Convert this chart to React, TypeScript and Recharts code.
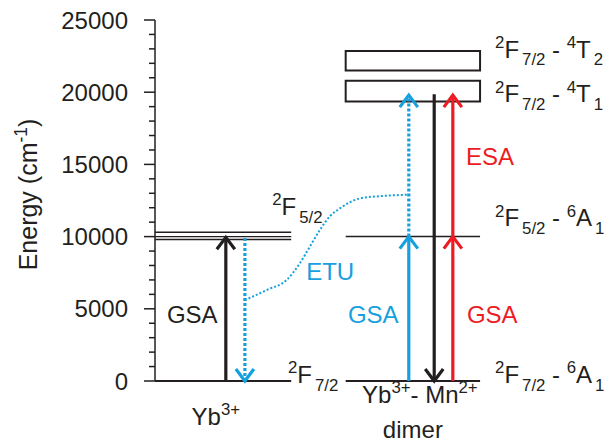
import React from "react";
import {
  ComposedChart,
  Line,
  XAxis,
  YAxis,
  ReferenceLine,
  ReferenceArea,
  ReferenceDot,
} from "recharts";

const FONT = "'Liberation Sans', Arial, Helvetica, sans-serif";
const INK = "#231f20";
const BLUE = "#16a0de";
const RED = "#ed1c24";

// energy axis (cm-1)
const majorTicks = [0, 5000, 10000, 15000, 20000, 25000];
const allTicks = [
  0, 1000, 2000, 3000, 4000, 5000, 6000, 7000, 8000, 9000, 10000, 11000, 12000,
  13000, 14000, 15000, 16000, 17000, 18000, 19000, 20000, 21000, 22000, 23000,
  24000, 25000,
];

// energy levels
const ybLevels = [0, 9800, 10000, 10300];
const dimerLevels = [0, 10000];
const dimerBands = [
  [19350, 20800], // 2F7/2 - 4T1
  [21500, 22850], // 2F7/2 - 4T2
];

// transitions (from, to)
const ybGsa = [0, 9950];
const ybEtuDown = [9900, 0];
const dimerGsa = [0, 10000];
const dimerEtuUp = [10000, 19800];
const dimerEmission = [19850, 0];
const dimerEsa = [10000, 19800];

// ETU energy transfer path
const etuEnergy = [5600, 6300, 7000, 8150, 9300, 10450, 11400, 11950, 12650, 12800, 12900];
const etuX = [19.8, 24.6, 29, 31.9, 34.1, 36.3, 38.5, 40.7, 45.2, 49.6, 55.9];

// horizontal layout (0-100 units)
const YB = { from: 0, to: 30, gsa: 15.6, etu: 19.8 };
const DIMER = { from: 42, to: 71.6, blue: 55.9, black: 61.5, red: 65.6 };

type Part = [string, "" | "sup" | "sub"];

const Term = ({
  x,
  y,
  parts,
  size = 24,
  color = INK,
  anchor = "start",
}: {
  x: number;
  y: number;
  parts: Part[];
  size?: number;
  color?: string;
  anchor?: "start" | "middle" | "end";
}) => {
  let cur = 0;
  return (
    <text
      x={x}
      y={y}
      fontSize={size}
      fill={color}
      fontFamily={FONT}
      textAnchor={anchor}
      style={{ whiteSpace: "pre" }}
    >
      {parts.map(([t, k], i) => {
        const target = k === "sup" ? -size * 0.4 : k === "sub" ? size * 0.32 : 0;
        const dy = target - cur;
        cur = target;
        return (
          <tspan key={i} dy={dy} dx={k === "sub" ? 3 : 0} fontSize={k ? size * 0.7 : size}>
            {t}
          </tspan>
        );
      })}
    </text>
  );
};

const labels: { x: number; y: number; parts: Part[]; color?: string; anchor?: "start" | "middle" }[] = [
  { x: 8.2, y: 4000, parts: [["GSA", ""]], anchor: "middle" },
  { x: 33.3, y: 7000, parts: [["ETU", ""]], color: BLUE },
  { x: 25.8, y: 11500, parts: [["2", "sup"], ["F", ""], ["5/2", "sub"]] },
  { x: 29.3, y: -140, parts: [["2", "sup"], ["F", ""], ["7/2", "sub"]] },
  { x: 13.4, y: -3050, parts: [["Yb", ""], ["3+", "sup"]], anchor: "middle" },
  { x: 45.6, y: -1520, parts: [["Yb", ""], ["3+", "sup"], ["- Mn", ""], ["2+", "sup"]] },
  { x: 56.8, y: -3950, parts: [["dimer", ""]], anchor: "middle" },
  { x: 42.5, y: 4000, parts: [["GSA", ""]], color: BLUE },
  { x: 68.7, y: 4000, parts: [["GSA", ""]], color: RED },
  { x: 68.5, y: 14950, parts: [["ESA", ""]], color: RED },
  { x: 74.9, y: 22400, parts: [["2", "sup"], ["F", ""], ["7/2", "sub"], [" - ", ""], ["4", "sup"], ["T", ""], ["2", "sub"]] },
  { x: 74.9, y: 19300, parts: [["2", "sup"], ["F", ""], ["7/2", "sub"], [" - ", ""], ["4", "sup"], ["T", ""], ["1", "sub"]] },
  { x: 74.9, y: 10700, parts: [["2", "sup"], ["F", ""], ["5/2", "sub"], [" - ", ""], ["6", "sup"], ["A", ""], ["1", "sub"]] },
  { x: 74.9, y: -140, parts: [["2", "sup"], ["F", ""], ["7/2", "sub"], [" - ", ""], ["6", "sup"], ["A", ""], ["1", "sub"]] },
];

const EnergyTick = (props: any) => {
  const { x, y, payload } = props;
  const major = majorTicks.includes(payload.value);
  return (
    <g>
      <line x1={x - (major ? 11 : 6)} x2={x} y1={y} y2={y} stroke={INK} strokeWidth={1.5} />
      {major && (
        <text x={x - 27} y={y} dy="0.36em" textAnchor="end" fontSize={24} fontFamily={FONT} fill={INK}>
          {payload.value}
        </text>
      )}
    </g>
  );
};

const AxisTitle = (props: any) => {
  const vb = props.viewBox || { x: 0, y: 20, width: 155, height: 361 };
  const cx = vb.x + 28;
  const cy = vb.y + vb.height / 2 - 6;
  return (
    <g transform={`translate(${cx},${cy}) rotate(-90)`}>
      <Term x={0} y={9} anchor="middle" size={25} parts={[["Energy (cm", ""], ["-1", "sup"], [")", ""]]} />
    </g>
  );
};

const arrowDot = (up: boolean, color: string) => (p: any) => {
  if (p.index !== 1) return <g key={`d${p.index}`} />;
  const s = up ? 1 : -1;
  return (
    <polyline
      key="head"
      points={`${p.cx - 9},${p.cy + s * 12} ${p.cx},${p.cy} ${p.cx + 9},${p.cy + s * 12}`}
      fill="none"
      stroke={color}
      strokeWidth={3.2}
      strokeDasharray="none"
    />
  );
};

const arrow = (key: string, x: number, [from, to]: number[], color: string, dashed: boolean) => (
  <Line
    key={key}
    data={[
      { x, e: from },
      { x, e: to },
    ]}
    dataKey="e"
    type="linear"
    stroke={color}
    strokeWidth={3.2}
    strokeDasharray={dashed ? "3 2" : undefined}
    dot={arrowDot(to > from, color)}
    activeDot={false}
    isAnimationActive={false}
  />
);

export default function App() {
  return (
    <div style={{ position: "absolute", left: 0, top: 0, background: "#fff" }}>
      <ComposedChart width={609} height={445} margin={{ top: 20, right: 0, bottom: 64, left: 0 }}>
        <XAxis type="number" dataKey="x" domain={[0, 100]} hide />
        <YAxis
          type="number"
          domain={[0, 25000]}
          ticks={allTicks}
          interval={0}
          width={155}
          tickSize={0}
          tickMargin={0}
          tickLine={false}
          axisLine={{ stroke: INK, strokeWidth: 1.5 }}
          tick={EnergyTick}
          label={{ content: AxisTitle }}
        />

        {ybLevels.map((e) => (
          <ReferenceLine
            key={`yb${e}`}
            segment={[
              { x: YB.from, y: e },
              { x: YB.to, y: e },
            ]}
            stroke={INK}
            strokeWidth={e === 0 ? 2 : 1.3}
            ifOverflow="visible"
          />
        ))}
        {dimerLevels.map((e) => (
          <ReferenceLine
            key={`dm${e}`}
            segment={[
              { x: DIMER.from, y: e },
              { x: DIMER.to, y: e },
            ]}
            stroke={INK}
            strokeWidth={e === 0 ? 2 : 1.5}
            ifOverflow="visible"
          />
        ))}
        {dimerBands.map(([lo, hi]) => (
          <ReferenceArea
            key={`band${lo}`}
            x1={DIMER.from}
            x2={DIMER.to}
            y1={lo}
            y2={hi}
            fill="none"
            fillOpacity={0}
            stroke={INK}
            strokeWidth={2}
            ifOverflow="visible"
          />
        ))}

        <Line
          data={etuX.map((x, i) => ({ x, e: etuEnergy[i] }))}
          dataKey="e"
          type="monotone"
          stroke={BLUE}
          strokeWidth={2}
          strokeDasharray="2 2"
          dot={false}
          activeDot={false}
          isAnimationActive={false}
        />

        {arrow("ybGsa", YB.gsa, ybGsa, INK, false)}
        {arrow("ybEtu", YB.etu, ybEtuDown, BLUE, true)}
        {arrow("dmGsa", DIMER.blue, dimerGsa, BLUE, false)}
        {arrow("dmEtu", DIMER.blue, dimerEtuUp, BLUE, true)}
        {arrow("dmEm", DIMER.black, dimerEmission, INK, false)}
        {arrow("dmGsa2", DIMER.red, dimerGsa, RED, false)}
        {arrow("dmEsa", DIMER.red, dimerEsa, RED, false)}

        {labels.map((l, i) => (
          <ReferenceDot
            key={`lbl${i}`}
            x={l.x}
            y={l.y}
            r={0}
            ifOverflow="visible"
            shape={(p: any) => (
              <Term x={p.cx} y={p.cy} parts={l.parts} color={l.color} anchor={l.anchor} />
            )}
          />
        ))}
      </ComposedChart>
    </div>
  );
}
